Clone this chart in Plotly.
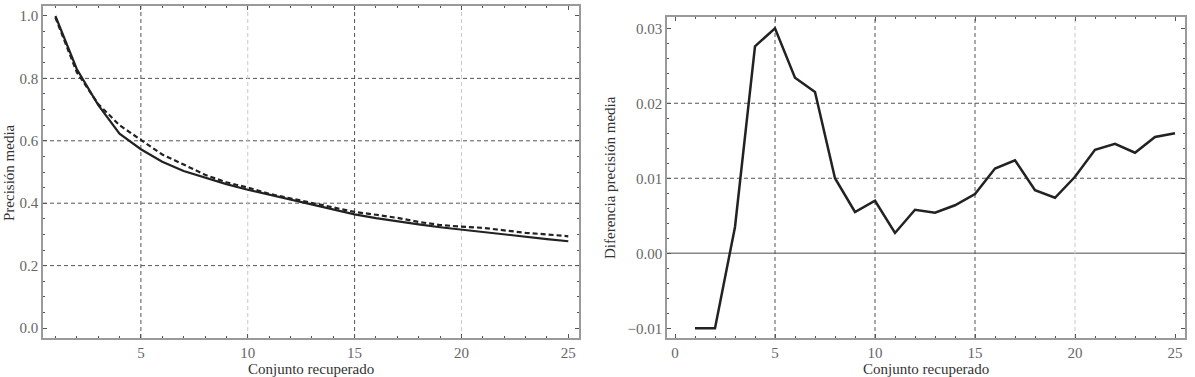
import plotly.graph_objects as go

# ---- data ----
conjunto = list(range(1, 26))
precision_a = [1.0, 0.83, 0.715, 0.623, 0.573, 0.533, 0.503, 0.481, 0.461, 0.443,
               0.427, 0.410, 0.395, 0.379, 0.364, 0.352, 0.341, 0.332, 0.323, 0.315,
               0.307, 0.299, 0.292, 0.285, 0.278]
precision_b = [0.995, 0.82, 0.718, 0.650, 0.603, 0.556, 0.524, 0.491, 0.467, 0.450,
               0.430, 0.416, 0.400, 0.386, 0.372, 0.363, 0.353, 0.340, 0.330, 0.325,
               0.321, 0.313, 0.305, 0.300, 0.294]
diferencia = [-0.0100, -0.0100, 0.0035, 0.0276, 0.0300, 0.0234, 0.0215, 0.0100, 0.0055, 0.0070,
              0.0027, 0.0058, 0.0054, 0.0064, 0.0079, 0.0113, 0.0124, 0.0084, 0.0074, 0.0102,
              0.0138, 0.0146, 0.0134, 0.0155, 0.0160]

left_yticks = [0.0, 0.2, 0.4, 0.6, 0.8, 1.0]
left_xticks = [5, 10, 15, 20, 25]
right_yticks = [-0.01, 0.0, 0.01, 0.02, 0.03]
right_xticks = [0, 5, 10, 15, 20, 25]

FONT = "Liberation Serif, Times New Roman, serif"
FRAME = "#9a9a9a"
TICKFONT = dict(family=FONT, size=15, color="#666666")
LINE = "#222222"

fig = go.Figure()
fig.add_trace(go.Scatter(x=conjunto, y=precision_a, mode="lines",
                         line=dict(color=LINE, width=2.2), xaxis="x", yaxis="y", showlegend=False))
fig.add_trace(go.Scatter(x=conjunto, y=precision_b, mode="lines",
                         line=dict(color=LINE, width=2.2, dash="5px,3px"), xaxis="x", yaxis="y", showlegend=False))
fig.add_trace(go.Scatter(x=conjunto, y=diferencia, mode="lines",
                         line=dict(color=LINE, width=2.5), xaxis="x2", yaxis="y2", showlegend=False))

def axis_common():
    return dict(showline=True, linecolor=FRAME, linewidth=1.5, mirror="allticks",
                ticks="inside", ticklen=4, tickcolor="#555", tickwidth=1,
                showgrid=False, zeroline=False, tickfont=TICKFONT)

fig.update_layout(
    width=1195, height=377, margin=dict(l=0, r=0, t=0, b=0),
    paper_bgcolor="white", plot_bgcolor="white",
    xaxis=dict(domain=[43/1195, 579/1195], range=[0.42, 25.5], tickvals=left_xticks,
               minor=dict(dtick=1, tick0=0, ticks="inside", ticklen=2, tickcolor="#555"),
               anchor="y", **axis_common()),
    yaxis=dict(domain=[1-338/377, 1-6/377], range=[-0.032, 1.032], tickvals=left_yticks,
               tickformat=".1f",
               minor=dict(dtick=0.05, tick0=0, ticks="inside", ticklen=2, tickcolor="#555"),
               anchor="x", **axis_common()),
    xaxis2=dict(domain=[667/1195, 1185/1195], range=[-0.4, 25.5], tickvals=right_xticks,
                minor=dict(dtick=1, tick0=0, ticks="inside", ticklen=2, tickcolor="#555"),
                anchor="y2", **axis_common()),
    yaxis2=dict(domain=[1-338/377, 1-17/377], range=[-0.0113, 0.0315], tickvals=right_yticks,
                tickformat=".2f",
                minor=dict(dtick=0.002, tick0=0, ticks="inside", ticklen=2, tickcolor="#555"),
                anchor="x2", **axis_common()),
)

# grid lines
dark = dict(color="#555555", width=1, dash="4px,3px")
light = dict(color="#c8c8c8", width=1, dash="4px,3px")
shapes = []
for yv in [0.2, 0.4, 0.6, 0.8]:
    shapes.append(dict(type="line", xref="x domain", yref="y", x0=0, x1=1, y0=yv, y1=yv, line=dark, layer="below"))
for xv, st in [(5, dark), (10, light), (15, dark), (20, light)]:
    shapes.append(dict(type="line", xref="x", yref="y domain", x0=xv, x1=xv, y0=0, y1=1, line=st, layer="below"))
for yv in [0.01, 0.02]:
    shapes.append(dict(type="line", xref="x2 domain", yref="y2", x0=0, x1=1, y0=yv, y1=yv, line=dark, layer="below"))
shapes.append(dict(type="line", xref="x2 domain", yref="y2", x0=0, x1=1, y0=0, y1=0,
                   line=dict(color="#888888", width=1.3), layer="below"))
for xv, st in [(5, dark), (10, dark), (15, dark), (20, light)]:
    shapes.append(dict(type="line", xref="x2", yref="y2 domain", x0=xv, x1=xv, y0=0, y1=1, line=st, layer="below"))
fig.update_layout(shapes=shapes)

TITLEFONT = dict(family=FONT, size=15, color="#333333")
def title(text, px, py, angle=0):
    fig.add_annotation(text=text, xref="paper", yref="paper", x=px/1195, y=1-py/377,
                       xanchor="center", yanchor="middle", showarrow=False,
                       textangle=angle, font=TITLEFONT)

title("Conjunto recuperado", 311, 369)
title("Conjunto recuperado", 926, 369)
title("Precisión media", 9, 173, -90)
title("Diferencia precisión media", 610, 178, -90)

fig.write_html("out.html")
